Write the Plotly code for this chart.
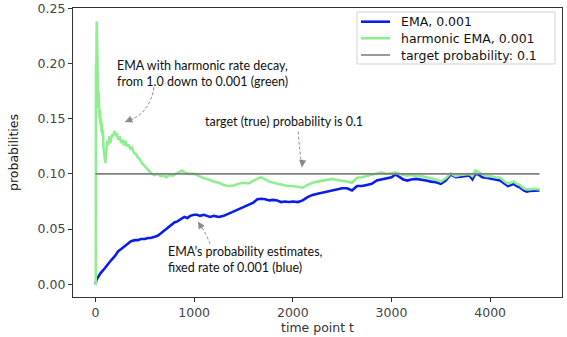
import plotly.graph_objects as go

# EMA with a fixed rate of 0.001 (blue)
ema_t = [0, 10, 30, 50, 80, 100, 130, 160, 200, 230, 260, 300, 330, 360, 400, 430, 460, 500,
         530, 560, 600, 630, 660, 700, 730, 760, 800, 830, 860, 900, 930, 960, 1000, 1030, 1060,
         1100, 1130, 1160, 1200, 1250, 1300, 1350, 1400, 1450, 1500, 1550, 1600, 1640, 1680,
         1720, 1760, 1800, 1840, 1880, 1920, 1960, 2000, 2050, 2100, 2150, 2200, 2250, 2300,
         2350, 2400, 2450, 2500, 2550, 2600, 2650, 2700, 2750, 2800, 2850, 2900, 2950, 3000,
         3040, 3080, 3120, 3160, 3200, 3250, 3300, 3350, 3400, 3450, 3500, 3550, 3600, 3650,
         3700, 3750, 3790, 3820, 3850, 3880, 3920, 3960, 4000, 4050, 4100, 4150, 4180, 4210,
         4240, 4270, 4300, 4340, 4370, 4400, 4450, 4500]
ema_p = [0.000, 0.004, 0.007, 0.010, 0.013, 0.015, 0.018, 0.022, 0.026, 0.030, 0.032, 0.035,
         0.037, 0.039, 0.040, 0.040, 0.041, 0.041, 0.042, 0.042, 0.043, 0.044, 0.046, 0.049,
         0.051, 0.053, 0.056, 0.057, 0.059, 0.061, 0.060, 0.062, 0.063, 0.063, 0.062, 0.063,
         0.062, 0.061, 0.062, 0.061, 0.062, 0.064, 0.066, 0.068, 0.070, 0.072, 0.074, 0.077,
         0.0775, 0.077, 0.076, 0.0765, 0.076, 0.0745, 0.075, 0.0745, 0.075, 0.0745, 0.076,
         0.079, 0.081, 0.082, 0.083, 0.084, 0.085, 0.086, 0.087, 0.087, 0.085, 0.089, 0.089,
         0.090, 0.091, 0.094, 0.095, 0.096, 0.097, 0.0995, 0.097, 0.095, 0.094, 0.095, 0.0955,
         0.095, 0.094, 0.093, 0.0925, 0.091, 0.094, 0.0995, 0.097, 0.0975, 0.098, 0.0985,
         0.095, 0.100, 0.0995, 0.097, 0.0965, 0.096, 0.095, 0.094, 0.091, 0.089, 0.090, 0.091,
         0.089, 0.088, 0.085, 0.084, 0.0845, 0.085, 0.085]

# EMA with harmonic rate decay from 1.0 down to 0.001 (green)
harm_t = [0, 3, 5, 7, 9, 11, 13, 15, 17, 19, 21, 24, 27, 30, 34, 38, 42, 46, 50, 55, 60, 65,
          70, 75, 80, 85, 90, 95, 100, 105, 110, 120, 130, 140, 150, 160, 170, 180, 190, 200,
          215, 230, 245, 260, 275, 290, 305, 320, 335, 350, 370, 390, 410, 430, 450, 470, 490,
          510, 530, 550, 570, 600, 630, 660, 690, 720, 750, 780, 810, 850, 880, 910, 950, 1000,
          1050, 1100, 1150, 1200, 1250, 1300, 1350, 1400, 1450, 1500, 1550, 1600, 1650, 1680,
          1720, 1760, 1800, 1850, 1900, 1950, 2000, 2050, 2100, 2150, 2200, 2250, 2300, 2350,
          2400, 2450, 2500, 2550, 2600, 2650, 2700, 2750, 2800, 2850, 2900, 2950, 3000, 3040,
          3080, 3120, 3160, 3200, 3250, 3300, 3350, 3400, 3450, 3500, 3550, 3600, 3650, 3700,
          3750, 3790, 3820, 3850, 3880, 3920, 3960, 4000, 4050, 4100, 4150, 4180, 4210, 4240,
          4270, 4300, 4340, 4370, 4400, 4450, 4500]
harm_p = [0.0, 0.0, 0.20, 0.16, 0.21, 0.225, 0.238, 0.225, 0.20, 0.19, 0.17, 0.195, 0.16,
          0.175, 0.155, 0.165, 0.150, 0.158, 0.145, 0.150, 0.138, 0.146, 0.135, 0.140, 0.125,
          0.120, 0.115, 0.112, 0.110, 0.118, 0.125, 0.130, 0.126, 0.134, 0.128, 0.133, 0.136,
          0.134, 0.139, 0.135, 0.137, 0.131, 0.134, 0.128, 0.131, 0.126, 0.130, 0.125, 0.127,
          0.123, 0.124, 0.119, 0.118, 0.115, 0.113, 0.110, 0.108, 0.106, 0.105, 0.1025, 0.100,
          0.099, 0.100, 0.098, 0.0985, 0.097, 0.099, 0.0985, 0.100, 0.1015, 0.103, 0.101, 0.100,
          0.100, 0.098, 0.096, 0.095, 0.093, 0.092, 0.090, 0.089, 0.0895, 0.091, 0.092, 0.0915,
          0.094, 0.096, 0.097, 0.095, 0.093, 0.092, 0.091, 0.090, 0.089, 0.089, 0.088, 0.0875,
          0.090, 0.092, 0.093, 0.094, 0.095, 0.0955, 0.0945, 0.094, 0.093, 0.092, 0.0965, 0.097,
          0.098, 0.099, 0.1005, 0.1015, 0.100, 0.1005, 0.1015, 0.100, 0.099, 0.0985, 0.099,
          0.098, 0.098, 0.097, 0.0965, 0.095, 0.093, 0.096, 0.1005, 0.098, 0.099, 0.0995, 0.100,
          0.098, 0.103, 0.102, 0.0995, 0.098, 0.098, 0.097, 0.0965, 0.093, 0.091, 0.092, 0.093,
          0.091, 0.090, 0.087, 0.086, 0.086, 0.0865, 0.086]

target_t = [0, 4500]
target_p = [0.1, 0.1]

y_ticks = [0.0, 0.05, 0.10, 0.15, 0.20, 0.25]
x_ticks = [0, 1000, 2000, 3000, 4000]

W, H = 567, 337
M_L, M_R, M_T, M_B = 73, 5, 8, 40
PLOT_W = W - M_L - M_R
PLOT_H = H - M_T - M_B


def px_to_paper(px, py):
    """Convert figure pixel coordinates to paper coordinates."""
    return (px - M_L) / PLOT_W, 1 - (py - M_T) / PLOT_H


TICK_FONT = dict(family="DejaVu Sans", size=12.5, color="#444444")
NOTE_FONT = dict(family="Lato", size=12.5, color="#111111")
ARROW_GREY = "#8a8a8a"

series = [
    (ema_t, ema_p, "EMA, 0.001", "#0a1ee8", 2.6),
    (harm_t, harm_p, "harmonic EMA, 0.001", "#90ee90", 2.6),
    (target_t, target_p, "target probability: 0.1", "#808080", 1.6),
]

fig = go.Figure()
for xs, ys, name, color, width in series:
    fig.add_trace(go.Scatter(x=xs, y=ys, mode="lines", name=name, showlegend=False,
                             line=dict(color=color, width=width)))

# dashed curved leader lines (quadratic curves in data space)
leaders = [
    ((592, 0.1786), (552, 0.1536), (300, 0.1470)),
    ((2054, 0.1384), (2070, 0.1200), (2092, 0.1060)),
    ((1160, 0.0366), (1120, 0.0470), (1038, 0.0568)),
]
for (x0, y0), (cx, cy), (x1, y1) in leaders:
    fig.add_shape(type="path", xref="x", yref="y",
                  path=f"M {x0},{y0} Q {cx},{cy} {x1},{y1}",
                  line=dict(color=ARROW_GREY, width=1, dash="3px,2px"))

# arrowheads at the end of each leader
heads = [((300, 0.1470), 9, -4), ((2092, 0.1060), 1, -9), ((1038, 0.0568), 5, 8)]
for (hx, hy), ax, ay in heads:
    fig.add_annotation(x=hx, y=hy, xref="x", yref="y", text="", showarrow=True,
                       ax=ax, ay=ay, arrowhead=2, arrowsize=1.3, arrowwidth=1.1,
                       arrowcolor=ARROW_GREY)

notes = [
    (200, 0.1906, "EMA with harmonic rate decay,<br>from 1.0 down to 0.001 (green)"),
    (1090, 0.1473, "target (true) probability is 0.1"),
    (718, 0.0228, "EMA\u2019s probability estimates,<br>fixed rate of 0.001 (blue)"),
]
for nx, ny, txt in notes:
    fig.add_annotation(x=nx, y=ny, xref="x", yref="y", text=txt, showarrow=False,
                       xanchor="left", yanchor="middle", align="left", font=NOTE_FONT)

# legend box drawn in the upper right corner
bx0, by0 = px_to_paper(357, 12)
bx1, by1 = px_to_paper(555, 64)
fig.add_shape(type="rect", xref="paper", yref="paper", x0=bx0, y0=by1, x1=bx1, y1=by0,
              line=dict(color="#d0d0d0", width=1), fillcolor="white", layer="above")
row_y = [21.7, 38.3, 55.0]
for (xs, ys, name, color, width), ry in zip(series, row_y):
    lx0, ly = px_to_paper(361, ry)
    lx1, _ = px_to_paper(390, ry)
    fig.add_shape(type="line", xref="paper", yref="paper", x0=lx0, y0=ly, x1=lx1, y1=ly,
                  line=dict(color=color, width=width), layer="above")
    tx, _ = px_to_paper(400, ry)
    fig.add_annotation(x=tx, y=ly, xref="paper", yref="paper", text=name, showarrow=False,
                       xanchor="left", yanchor="middle", xshift=-1,
                       font=dict(family="DejaVu Sans", size=12.5, color="#111111"))

axis_common = dict(showline=True, linecolor="#333333", linewidth=1.2, mirror=True,
                   ticks="outside", ticklen=4, tickwidth=1, tickcolor="#333333",
                   showgrid=False, zeroline=False, tickfont=TICK_FONT,
                   ticklabeloverflow="allow", automargin=False)

fig.update_xaxes(range=[-228, 4728], tickvals=x_ticks, ticktext=[str(v) for v in x_ticks],
                 title=dict(text="time point t", standoff=2,
                            font=dict(family="DejaVu Sans", size=12.5, color="#333333")),
                 **axis_common)
fig.update_yaxes(range=[-0.0115, 0.2503], tickvals=y_ticks,
                 ticktext=[f"{v:.2f}" for v in y_ticks],
                 title=dict(text="probabilities", standoff=16,
                            font=dict(family="DejaVu Sans", size=12.5, color="#111111")),
                 **axis_common)

fig.update_layout(
    width=W, height=H,
    margin=dict(l=M_L, r=M_R, t=M_T, b=M_B),
    paper_bgcolor="white", plot_bgcolor="white",
    showlegend=False,
)

fig.write_html("out.html")
